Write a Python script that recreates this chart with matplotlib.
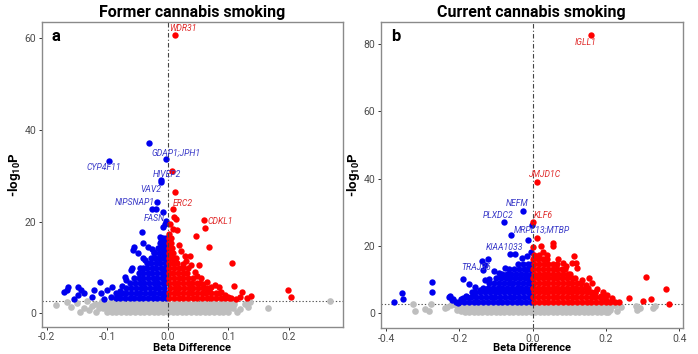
import matplotlib
matplotlib.use("Agg")
import matplotlib.pyplot as plt
import numpy as np

# ---------------- DATA ----------------
# significance threshold (-log10 P) shown by the dotted line
thr_a = 2.8
thr_b = 2.8

# ---- Panel a: Former cannabis smoking ----
a_gene_names = ["WDR31", "GDAP1;JPH1", "CYP4F11", "HIVEP2", "VAV2", "NIPSNAP1", "ERC2", "FASN", "CDKL1"]
a_gene_beta = [0.0127, -0.002, -0.0966, -0.0104, -0.0104, -0.017, 0.0082, -0.007, 0.0593]
a_gene_logp = [60.8, 33.6, 33.3, 29.1, 28.6, 24.4, 22.7, 22.1, 20.4]

a_scatter = [(-0.166, 5.2), (-0.164, 5.7), (-0.148, 5.8), (-0.148, 4.0), (-0.143, 5.1), (-0.138, 4.4),
             (-0.121, 5.1), (-0.1125, 6.8), (-0.110, 4.4), (-0.101, 5.1), (-0.092, 5.8), (-0.086, 4.4),
             (-0.081, 4.0), (-0.094, 3.6), (-0.070, 8.0), (-0.068, 7.3), (-0.060, 9.5), (-0.057, 13.8),
             (-0.056, 14.4), (-0.049, 13.2), (-0.042, 17.8), (-0.0405, 12.1), (-0.0405, 15.3), (-0.033, 14.5),
             (-0.026, 14.0), (-0.023, 13.3), (-0.013, 16.6), (-0.011, 15.9), (-0.008, 18.8), (-0.059, 9.8),
             (-0.045, 9.8), (-0.038, 11.6), (-0.0307, 37.2), (-0.026, 22.7), (-0.019, 22.7), (-0.004, 19.5),
             (-0.002, 20.2), (-0.078, 4.8), (-0.075, 6.0), (-0.125, 3.5), (-0.155, 3.2), (-0.172, 4.6),
             (-0.105, 3.2),
             (0.007, 31.1), (0.0115, 26.5), (0.011, 21.0), (0.014, 20.5), (0.0616, 18.7), (0.047, 16.8),
             (0.0676, 14.5), (0.1066, 11.1), (0.0155, 18.2), (0.022, 13.7), (0.037, 12.5), (0.051, 10.6),
             (0.110, 6.0), (0.198, 5.0), (0.203, 3.5), (0.1225, 4.7), (0.137, 3.8), (0.120, 3.5), (0.131, 3.3),
             (0.099, 3.5), (0.084, 5.8), (0.0786, 6.2), (0.069, 5.1), (0.059, 6.5), (0.045, 9.0), (0.038, 10.5),
             (0.028, 12.5), (0.055, 7.8), (0.065, 6.8), (0.072, 5.8), (0.088, 4.6), (0.095, 4.0), (0.105, 3.4),
             (0.112, 3.2), (0.030, 11.5), (0.048, 8.2), (0.004, 19.6), (0.008, 18.5), (0.025, 10.8),
             (0.018, 15.0), (0.033, 9.8),
             (-0.185, 1.8), (-0.160, 1.45), (-0.167, 2.5), (-0.149, 2.2), (-0.133, 2.75), (-0.130, 0.7),
             (-0.144, 0.35), (-0.125, 1.6), (-0.118, 0.4), (0.120, 1.0), (0.136, 2.5), (0.132, 1.45),
             (0.165, 1.2), (0.268, 2.75), (0.115, 0.4), (0.127, 2.0), (-0.138, 1.2)]

a_rows = [
    (17.4, [0.003]),
    (16.5, [-0.008, -0.002, 0.002, 0.005]),
    (15.4, [-0.012, -0.006, -0.001, 0.002, 0.006]),
    (14.3, [-0.016, -0.009, -0.003, 0.002, 0.007]),
    (13.2, [-0.022, -0.015, -0.008, -0.002, 0.002, 0.008]),
    (12.1, [-0.028, -0.021, -0.014, -0.007, -0.002, 0.002, 0.008, 0.014]),
    (11.0, [-0.034, -0.027, -0.019, -0.012, -0.005, 0.002, 0.009, 0.016]),
    (9.9, [-0.041, -0.034, -0.026, -0.019, -0.011, -0.004, 0.003, 0.010, 0.018, 0.025]),
    (8.8, [-0.048, -0.041, -0.033, -0.026, -0.018, -0.010, -0.004, 0.002, 0.009, 0.017, 0.025, 0.032]),
    (7.7, [-0.055, -0.047, -0.040, -0.032, -0.024, -0.017, -0.009, -0.003, 0.003, 0.011, 0.018, 0.026,
           0.034, 0.041]),
    (6.6, [-0.062, -0.054, -0.046, -0.039, -0.031, -0.023, -0.016, -0.008, -0.002, 0.002, 0.010, 0.017,
           0.025, 0.033, 0.040, 0.048, 0.054]),
    (5.5, [-0.068, -0.060, -0.052, -0.044, -0.037, -0.029, -0.021, -0.014, -0.006, 0.004, 0.012, 0.019,
           0.027, 0.035, 0.042, 0.050, 0.058, 0.065]),
    (4.4, [-0.076, -0.068, -0.061, -0.053, -0.045, -0.038, -0.030, -0.022, -0.015, -0.007, -0.001, 0.002,
           0.010, 0.017, 0.025, 0.033, 0.040, 0.048, 0.056, 0.063, 0.071, 0.079, 0.085]),
    (3.3, [-0.086, -0.079, -0.071, -0.063, -0.056, -0.048, -0.040, -0.033, -0.025, -0.017, -0.010, -0.003,
           0.003, 0.011, 0.019, 0.026, 0.034, 0.042, 0.049, 0.057, 0.065, 0.072, 0.080, 0.088, 0.095, 0.102]),
    (2.6, [-0.108, -0.093, -0.078, -0.062, -0.047, -0.032, -0.016, -0.001, 0.014, 0.030, 0.045, 0.060,
           0.076, 0.091, 0.106]),
    (2.0, [-0.120, -0.112, -0.104, -0.097, -0.089, -0.081, -0.074, -0.066, -0.058, -0.051, -0.043, -0.035,
           -0.028, -0.020, -0.012, -0.005, 0.003, 0.011, 0.018, 0.026, 0.034, 0.041, 0.049, 0.057, 0.064,
           0.072, 0.080, 0.087, 0.095, 0.103, 0.110]),
    (1.1, [-0.114, -0.106, -0.099, -0.091, -0.083, -0.076, -0.068, -0.060, -0.053, -0.045, -0.037, -0.030,
           -0.022, -0.014, -0.007, 0.001, 0.009, 0.016, 0.024, 0.032, 0.039, 0.047, 0.055, 0.062, 0.070,
           0.078, 0.085, 0.093, 0.101, 0.108]),
    (0.2, [-0.100, -0.092, -0.085, -0.077, -0.069, -0.062, -0.054, -0.046, -0.039, -0.031, -0.023, -0.016,
           -0.008, 0.000, 0.008, 0.015, 0.023, 0.031, 0.038, 0.046, 0.054, 0.061, 0.069, 0.077, 0.084,
           0.092, 0.099]),
]

# ---- Panel b: Current cannabis smoking ----
b_gene_names = ["IGLL1", "JMJD1C", "NEFM", "PLXDC2", "KLF6", "MRPL13;MTBP", "KIAA1033", "TRAJ36"]
b_gene_beta = [0.160, 0.0126, -0.0273, -0.0774, 0.002, -0.059, -0.062, -0.130]
b_gene_logp = [82.7, 38.9, 30.5, 27.0, 27.0, 23.3, 17.5, 14.3]

b_scatter = [(-0.377, 3.5), (-0.357, 5.9), (-0.353, 4.3), (-0.274, 9.2), (-0.275, 6.4), (-0.228, 4.9),
             (-0.221, 3.9), (-0.2165, 4.2), (-0.191, 10.1), (-0.189, 4.6), (-0.173, 8.6), (-0.157, 7.9),
             (-0.139, 15.6), (-0.121, 16.0), (-0.135, 12.9), (-0.1055, 12.7), (-0.130, 9.9), (-0.118, 10.1),
             (-0.0864, 11.1), (-0.166, 6.4), (-0.2255, 5.1), (-0.048, 17.5), (-0.012, 21.8), (-0.001, 26.2),
             (-0.030, 16.5), (-0.015, 17.0), (-0.005, 18.2), (-0.075, 13.5), (-0.092, 12.0), (-0.145, 7.0),
             (-0.160, 6.0), (-0.182, 5.2), (-0.196, 4.2), (-0.210, 3.4), (-0.205, 3.0),
             (0.0126, 22.3), (0.002, 19.6), (0.0227, 20.1), (0.0545, 20.8), (0.0545, 20.0), (0.029, 18.3),
             (0.1135, 17.0), (0.118, 14.8), (0.120, 13.4), (0.154, 10.6), (0.161, 8.9), (0.308, 10.7),
             (0.3627, 7.2), (0.372, 2.9), (0.322, 4.2), (0.302, 3.7), (0.2635, 4.6), (0.235, 3.3),
             (0.2155, 4.5), (0.2018, 5.4), (0.191, 6.4), (0.1745, 7.1), (0.0835, 15.0), (0.106, 14.8),
             (0.070, 16.2), (0.090, 14.0), (0.135, 10.0), (0.145, 8.5), (0.170, 6.0), (0.185, 5.0),
             (0.200, 4.0), (0.225, 3.5), (0.040, 17.2),
             (-0.327, 2.7), (-0.321, 0.8), (-0.294, 1.2), (-0.282, 0.8), (-0.277, 2.75), (-0.239, 1.5),
             (-0.2345, 2.0), (-0.207, 1.0), (0.211, 1.0), (0.240, 1.8), (0.282, 2.2), (0.2836, 1.0),
             (0.2926, 1.5), (0.329, 1.5), (0.3335, 2.2), (-0.222, 2.5), (0.225, 2.6), (-0.195, 0.6),
             (0.205, 0.5), (0.230, 0.8)]

b_rows = [
    (17.4, [0.004, 0.016]),
    (16.0, [0.002, 0.015, 0.028, 0.040]),
    (14.6, [-0.040, -0.027, -0.014, -0.004, 0.004, 0.017, 0.030, 0.043, 0.056, 0.066]),
    (13.2, [-0.064, -0.051, -0.038, -0.025, -0.012, -0.002, 0.002, 0.015, 0.028, 0.041, 0.054, 0.067,
            0.080, 0.087]),
    (11.8, [-0.084, -0.071, -0.058, -0.045, -0.032, -0.019, -0.006, 0.004, 0.017, 0.030, 0.043, 0.056,
            0.069, 0.082, 0.095, 0.102]),
    (10.4, [-0.100, -0.087, -0.074, -0.061, -0.048, -0.035, -0.022, -0.009, 0.002, 0.015, 0.028, 0.041,
            0.054, 0.067, 0.080, 0.093, 0.106, 0.116]),
    (9.0, [-0.118, -0.105, -0.092, -0.079, -0.066, -0.053, -0.040, -0.027, -0.014, -0.003, 0.004, 0.017,
           0.030, 0.043, 0.056, 0.069, 0.082, 0.095, 0.108, 0.121, 0.132]),
    (7.6, [-0.135, -0.122, -0.109, -0.096, -0.083, -0.070, -0.057, -0.044, -0.031, -0.018, -0.006, 0.002,
           0.015, 0.028, 0.041, 0.054, 0.067, 0.080, 0.093, 0.106, 0.119, 0.132, 0.145, 0.152]),
    (6.2, [-0.156, -0.143, -0.130, -0.117, -0.104, -0.091, -0.078, -0.065, -0.052, -0.039, -0.026, -0.013,
           -0.003, 0.004, 0.017, 0.030, 0.043, 0.056, 0.069, 0.082, 0.095, 0.108, 0.121, 0.134, 0.147,
           0.160, 0.170]),
    (4.8, [-0.180, -0.167, -0.154, -0.141, -0.128, -0.115, -0.102, -0.089, -0.076, -0.063, -0.050, -0.037,
           -0.024, -0.011, -0.002, 0.002, 0.015, 0.028, 0.041, 0.054, 0.067, 0.080, 0.093, 0.106, 0.119,
           0.132, 0.145, 0.158, 0.171, 0.184, 0.193]),
    (3.4, [-0.200, -0.187, -0.174, -0.161, -0.148, -0.135, -0.122, -0.109, -0.096, -0.083, -0.070, -0.057,
           -0.044, -0.031, -0.018, -0.005, 0.004, 0.017, 0.030, 0.043, 0.056, 0.069, 0.082, 0.095, 0.108,
           0.121, 0.134, 0.147, 0.160, 0.173, 0.186, 0.199, 0.212]),
    (2.5, [-0.208, -0.195, -0.182, -0.169, -0.156, -0.143, -0.130, -0.117, -0.104, -0.091, -0.078, -0.065,
           -0.052, -0.039, -0.026, -0.013, 0.000, 0.013, 0.026, 0.039, 0.052, 0.065, 0.078, 0.091, 0.104,
           0.117, 0.130, 0.143, 0.156, 0.169, 0.182, 0.195, 0.208, 0.221]),
    (1.5, [-0.198, -0.186, -0.174, -0.162, -0.150, -0.138, -0.126, -0.114, -0.102, -0.090, -0.078, -0.066,
           -0.054, -0.042, -0.030, -0.018, -0.006, 0.006, 0.018, 0.030, 0.042, 0.054, 0.066, 0.078, 0.090,
           0.102, 0.114, 0.126, 0.138, 0.150, 0.162, 0.174, 0.186, 0.198, 0.210]),
    (0.4, [-0.185, -0.173, -0.161, -0.149, -0.137, -0.125, -0.113, -0.101, -0.089, -0.077, -0.065, -0.053,
           -0.041, -0.029, -0.017, -0.005, 0.007, 0.019, 0.031, 0.043, 0.055, 0.067, 0.079, 0.091, 0.103,
           0.115, 0.127, 0.139, 0.151, 0.163, 0.175, 0.187, 0.199]),
]

titles = ["Former cannabis smoking", "Current cannabis smoking"]
letters = ["a", "b"]
a_xticks = [-0.2, -0.1, 0.0, 0.1, 0.2]
a_yticks = [0, 20, 40, 60]
b_xticks = [-0.4, -0.2, 0.0, 0.2, 0.4]
b_yticks = [0, 20, 40, 60, 80]

# ---------------- STYLE ----------------
FONT = "Roboto"
BLUE = "#0000ee"
RED = "#ff0000"
GREY = "#bebebe"
LBLUE = "#3a3ac8"
LRED = "#e02a2a"

# label offsets in points (dx, dy)
a_offsets = [(5.5, 4.6), (7.0, 4.3), (-4.1, -4.8), (4.1, 3.8), (-7.7, -5.0), (-16.0, -0.7), (7.0, 4.3),
             (-6.3, -4.5), (12.0, -1.4)]
b_offsets = [(-4.3, -5.5), (5.5, 5.3), (-4.3, 4.8), (-4.3, 4.8), (6.8, 5.3), (22.0, 2.9), (-3.6, 5.0),
             (-6.5, -1.7)]

plt.rcParams["mathtext.default"] = "regular"
fig = plt.figure(figsize=(6.98, 3.54), dpi=100)
ax_a = fig.add_axes([41.7 / 698, (354 - 326.7) / 354, 301 / 698, 304.4 / 354])
ax_b = fig.add_axes([380.7 / 698, (354 - 328.3) / 354, 302 / 698, 306.6 / 354])


def collect(rows, scatter, gbeta, glogp):
    xs, ys = [], []
    for y, row in rows:
        xs.extend(row)
        ys.extend([y] * len(row))
    for x, y in scatter:
        xs.append(x)
        ys.append(y)
    xs.extend(gbeta)
    ys.extend(glogp)
    return np.array(xs), np.array(ys)


def draw(ax, rows, scatter, gnames, gbeta, glogp, offs, thr, xlim, ylim, xticks, yticks, letter):
    x, y = collect(rows, scatter, gbeta, glogp)
    ns = y <= thr
    up = (y > thr) & (x > 0)
    dn = (y > thr) & (x <= 0)
    ax.scatter(x[ns], y[ns], s=23, c=GREY, linewidths=0, zorder=2)
    ax.scatter(x[dn], y[dn], s=21, c=BLUE, linewidths=0, zorder=3)
    ax.scatter(x[up], y[up], s=21, c=RED, linewidths=0, zorder=3)
    ax.axvline(0, color="#444444", lw=0.8, ls=(0, (4, 2, 1, 2)), zorder=4)
    ax.axhline(thr, color="#555555", lw=0.8, ls=(0, (1.2, 1.8)), zorder=1)
    for name, bx, ly, (dx, dy) in zip(gnames, gbeta, glogp, offs):
        col = LRED if bx > 0 else LBLUE
        ax.annotate(name, (bx, ly), xytext=(dx, dy), textcoords="offset points",
                    ha="center", va="center", fontsize=6.2, style="italic", color=col,
                    family=FONT, zorder=5)
    ax.set_xlim(*xlim)
    ax.set_ylim(*ylim)
    ax.set_xticks(xticks)
    ax.set_xticklabels([f"{t:.1f}" for t in xticks])
    ax.set_yticks(yticks)
    ax.set_yticklabels([str(t) for t in yticks])
    ax.tick_params(axis="both", length=2.5, width=0.7, color="#333333", labelcolor="#4d4d4d",
                   labelsize=7.5, pad=1.5)
    for lab in ax.get_xticklabels() + ax.get_yticklabels():
        lab.set_family(FONT)
    for sp in ax.spines.values():
        sp.set_color("#8a8a8a")
        sp.set_linewidth(1.0)
    ax.text(0.034, 0.952, letter, transform=ax.transAxes, fontsize=12, fontweight="bold",
            family=FONT, ha="left", va="center")


draw(ax_a, a_rows, a_scatter, a_gene_names, a_gene_beta, a_gene_logp, a_offsets, thr_a,
     (-0.208, 0.289), (-2.9, 63.5), a_xticks, a_yticks, letters[0])
draw(ax_b, b_rows, b_scatter, b_gene_names, b_gene_beta, b_gene_logp, b_offsets, thr_b,
     (-0.4145, 0.409), (-4.45, 86.6), b_xticks, b_yticks, letters[1])

# titles, axis labels
for cx, title in zip([192.2 / 698, 531.7 / 698], titles):
    fig.text(cx, 1 - 12.5 / 354, title, ha="center", va="center", fontsize=11.5,
             fontweight="bold", family=FONT)
    fig.text(cx, 6.0 / 354, "Beta Difference", ha="center", va="center", fontsize=8,
             fontweight="bold", family=FONT)
for lx in [15 / 698, 353 / 698]:
    fig.text(lx, 1 - 175 / 354, "-log$_{10}$P", ha="center", va="center", rotation=90,
             fontsize=9.5, fontweight="bold", family=FONT)

fig.savefig("out.png", dpi=100)
